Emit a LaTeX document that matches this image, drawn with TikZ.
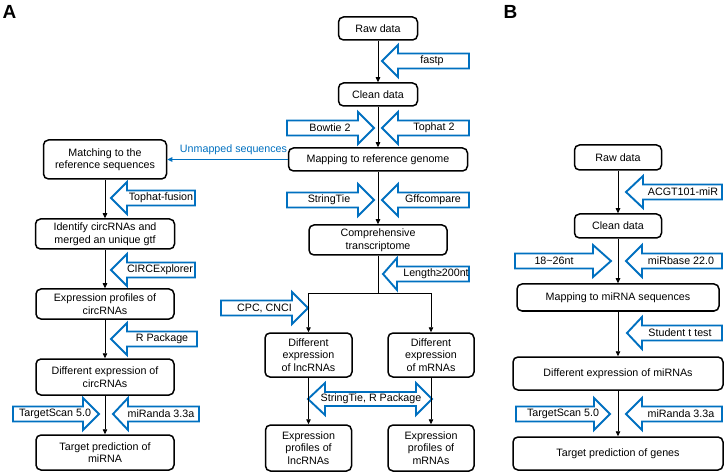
\documentclass[tikz,border=0pt]{standalone}
\usepackage{fontspec}
\setmainfont{Liberation Sans}
\usetikzlibrary{arrows.meta}
\definecolor{ablue}{RGB}{0,112,192}
% block arrow: name, tip x, y, head-base x, far-end x, text x, text
\newcommand\blk[7]{%
  \draw[blkarrow] ({#2},{#3}) -- ({#4},{#3-16}) -- ({#4},{#3-7.5}) -- ({#5},{#3-7.5})
    -- ({#5},{#3+7.5}) -- ({#4},{#3+7.5}) -- ({#4},{#3+16}) -- cycle;
  \node[atext] (#1) at ({#6},{#3}) {#7};}
\begin{document}
\begin{tikzpicture}[x=1pt,y=-1pt,
  box/.style={draw, line width=1.5pt, rounded corners=5pt, align=center, inner sep=1pt,
    font=\fontsize{10.7}{12.5}\selectfont},
  atext/.style={inner sep=0pt, font=\fontsize{10.7}{12.5}\selectfont},
  blkarrow/.style={draw=ablue, line width=1.9pt, fill=white, line join=miter},
  conn/.style={draw, line width=0.8pt, -{Triangle[length=5pt,width=4.5pt]}},
  plainline/.style={draw, line width=0.8pt},
  blueconn/.style={draw=ablue, line width=0.8pt, -{Triangle[length=5pt,width=4.5pt]}},
  panel/.style={font=\fontsize{19}{20}\selectfont\bfseries, inner sep=0pt}]
\useasboundingbox (0,0) rectangle (726,473);

\node[panel] (labA) at (9.5,11.5) {A};
\node[panel] (labB) at (510.5,11.5) {B};

% ---- Panel A, centre column
\node[box, minimum width=79pt, minimum height=23pt] (raw) at (378,28.5) {Raw data};
\node[box, minimum width=79pt, minimum height=23pt] (clean) at (378,94.5) {Clean data};
\node[box, minimum width=179pt, minimum height=23pt] (map) at (378,159.5) {Mapping to reference genome};
\node[box, minimum width=138pt, minimum height=30pt] (comp) at (378,240) {Comprehensive\\transcriptome};
\node[box, minimum width=87pt, minimum height=44pt] (dlnc) at (308.5,355) {Different\\expression\\of lncRNAs};
\node[box, minimum width=86pt, minimum height=44pt] (dm) at (431,355) {Different\\expression\\of mRNAs};
\node[box, minimum width=86pt, minimum height=46pt] (elnc) at (308.5,448) {Expression\\profiles of\\lncRNAs};
\node[box, minimum width=86pt, minimum height=46pt] (em) at (431,448) {Expression\\profiles of\\mRNAs};

% ---- Panel A, left column
\node[box, minimum width=123pt, minimum height=39pt] (match) at (105,159.5) {Matching to the\\reference sequences};
\node[box, minimum width=139pt, minimum height=30pt] (ident) at (105,234) {Identify circRNAs and\\merged an unique gtf};
\node[box, minimum width=138pt, minimum height=30pt] (eprof) at (105,304) {Expression profiles of\\circRNAs};
\node[box, minimum width=138pt, minimum height=36pt] (dcirc) at (105,377) {Different expression of\\circRNAs};
\node[box, minimum width=138pt, minimum height=35pt] (tpred) at (105,452.5) {Target prediction of\\miRNA};

% ---- Panel B
\node[box, minimum width=87pt, minimum height=25pt] (braw) at (618,157.5) {Raw data};
\node[box, minimum width=87pt, minimum height=24pt] (bclean) at (618,226) {Clean data};
\node[box, minimum width=202pt, minimum height=27pt] (bmap) at (618,297.5) {Mapping to miRNA sequences};
\node[box, minimum width=210pt, minimum height=33pt] (bdiff) at (618,373.5) {Different expression of miRNAs};
\node[box, minimum width=210pt, minimum height=33pt] (btarget) at (618,453.5) {Target prediction of genes};

% ---- block arrows
\blk{fastp}{382}{61}{398}{469}{432}{fastp}
\blk{bowtie}{374}{128}{358}{287}{330}{Bowtie 2}
\blk{tophat}{382}{128}{398}{469}{434}{Tophat 2}
\blk{stringtie}{374}{200}{358}{287}{329}{StringTie}
\blk{gff}{382}{200}{398}{469}{433}{Gffcompare}
\blk{len}{383}{274}{397}{469}{436}{Length≥200nt}
\blk{cpc}{308}{308}{292}{221}{264.5}{CPC, CNCI}
\blk{tf}{111}{198}{127}{195}{161}{Tophat-fusion}
\blk{ce}{111}{270}{127}{195}{160}{CIRCExplorer}
\blk{rp}{111}{339}{127}{197}{162}{R Package}
\blk{tsa}{99}{414}{83}{13}{55}{TargetScan 5.0}
\blk{mra}{113}{414}{128}{199}{161}{miRanda 3.3a}
\blk{acgt}{626}{192}{643}{722}{683}{ACGT101-miR}
\blk{nt}{611}{261}{593}{515}{554}{18\textasciitilde 26nt}
\blk{mirb}{626}{261}{642}{722}{681}{miRbase 22.0}
\blk{stt}{627}{333}{642}{722}{680}{Student t test}
\blk{tsb}{610}{414}{594}{516}{563}{TargetScan 5.0}
\blk{mrb}{626}{414}{642}{722}{681}{miRanda 3.3a}

% double arrow
\draw[blkarrow] (308,399) -- (325,383) -- (325,392) -- (416,392) -- (416,383) -- (432,399)
  -- (416,415) -- (416,406) -- (325,406) -- (325,415) -- cycle;
\node[atext] (srp) at (371,399) {StringTie, R Package};

% ---- connectors
\draw[conn] (raw) -- (clean);
\draw[conn] (clean) -- (map);
\draw[conn] (map) -- (comp);
\coordinate (br) at (378,293);
\draw[plainline] (comp) -- (br);
\draw[conn] (br) -| (dlnc);
\draw[conn] (br) -| (dm);
\draw[conn] (dlnc) -- (elnc);
\draw[conn] (dm) -- (em);

\draw[blueconn] (map) -- (match);
\node[atext, text=ablue] (unm) at (233.5,150) {Unmapped sequences};

\draw[conn] (match) -- (ident);
\draw[conn] (ident) -- (eprof);
\draw[conn] (eprof) -- (dcirc);
\draw[conn] (dcirc) -- (tpred);

\draw[conn] (braw) -- (bclean);
\draw[conn] (bclean) -- (bmap);
\draw[conn] (bmap) -- (bdiff);
\draw[conn] (bdiff) -- (btarget);
\end{tikzpicture}
\end{document}
